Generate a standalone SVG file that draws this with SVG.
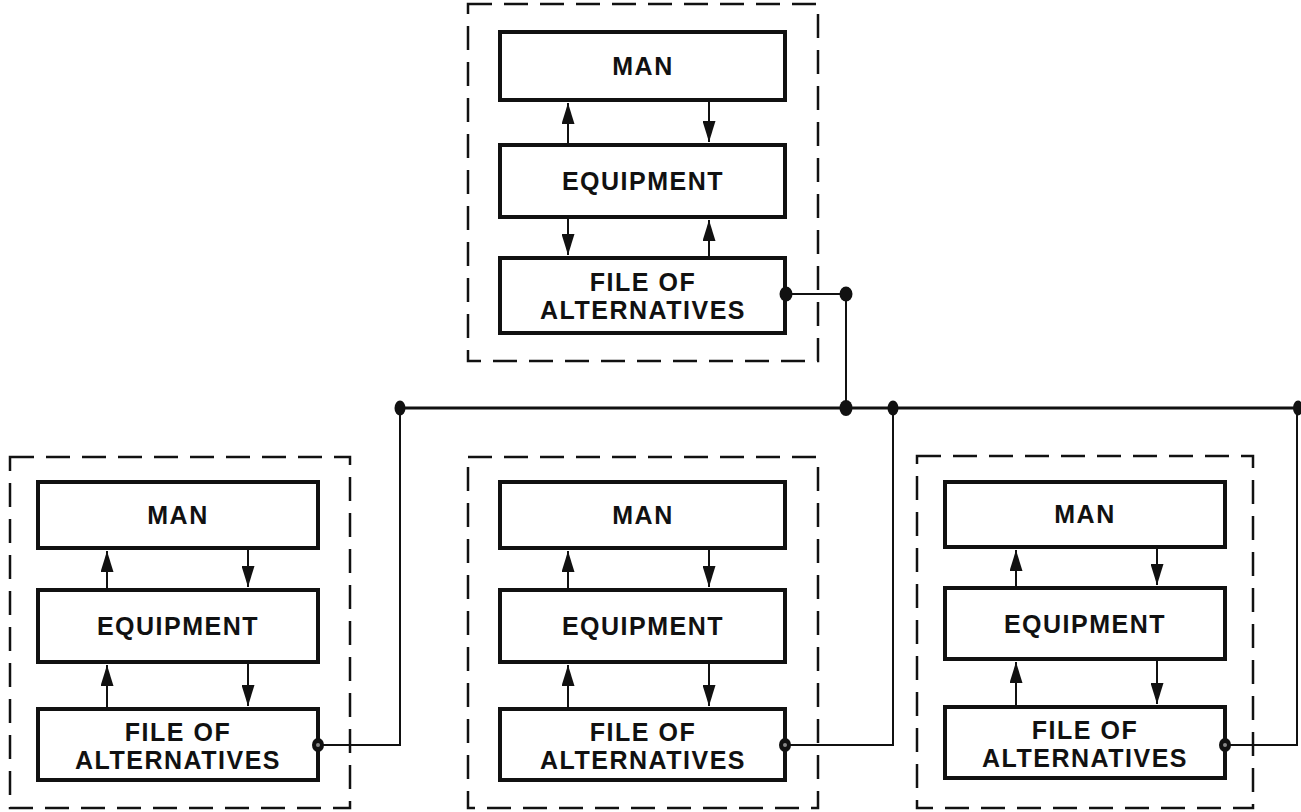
<svg xmlns="http://www.w3.org/2000/svg" width="1301" height="812" viewBox="0 0 1301 812">
<style>
.frame{fill:none;stroke:#111;stroke-width:2.5;stroke-dasharray:24 12}
.box{fill:#fff;stroke:#111;stroke-width:4}
.lbl{font-family:"Liberation Sans",Arial,sans-serif;font-weight:bold;font-size:25px;letter-spacing:1.5px;fill:#111;text-anchor:middle}
.arr{stroke:#111;stroke-width:2;fill:none;marker-end:url(#ah)}
.wire{stroke:#111;stroke-width:2;fill:none}
.bus{stroke:#111;stroke-width:2.8;fill:none}
.dot{fill:#111}
.hub{fill:#888}
</style>
<defs>
<marker id="ah" viewBox="0 0 21 13" refX="21" refY="6.5" markerWidth="21" markerHeight="13" markerUnits="userSpaceOnUse" orient="auto">
<path d="M0,0 L21,6.5 L0,13 z" fill="#111"/>
</marker>
</defs>

<g id="module-top">
<rect class="frame" x="468" y="4" width="350" height="357"/>
<g id="top-man"><rect class="box" x="500" y="32" width="285" height="68"/><text class="lbl" x="643" y="75">MAN</text></g>
<g id="top-equipment"><rect class="box" x="500" y="145" width="285" height="72"/><text class="lbl" x="643" y="190">EQUIPMENT</text></g>
<g id="top-file"><rect class="box" x="500" y="258" width="285" height="75"/><text class="lbl" x="643" y="291">FILE OF</text><text class="lbl" x="643" y="319">ALTERNATIVES</text></g>
</g>

<g id="module-bottom-left">
<rect class="frame" x="10" y="457" width="340" height="351"/>
<g id="bl-man"><rect class="box" x="38" y="482" width="280" height="66"/><text class="lbl" x="178" y="524">MAN</text></g>
<g id="bl-equipment"><rect class="box" x="38" y="590" width="280" height="72"/><text class="lbl" x="178" y="635">EQUIPMENT</text></g>
<g id="bl-file"><rect class="box" x="38" y="709" width="280" height="71"/><text class="lbl" x="178" y="741">FILE OF</text><text class="lbl" x="178" y="769">ALTERNATIVES</text></g>
</g>

<g id="module-bottom-middle">
<rect class="frame" x="468" y="457" width="350" height="351"/>
<g id="bm-man"><rect class="box" x="500" y="482" width="285" height="66"/><text class="lbl" x="643" y="524">MAN</text></g>
<g id="bm-equipment"><rect class="box" x="500" y="590" width="285" height="72"/><text class="lbl" x="643" y="635">EQUIPMENT</text></g>
<g id="bm-file"><rect class="box" x="500" y="709" width="285" height="71"/><text class="lbl" x="643" y="741">FILE OF</text><text class="lbl" x="643" y="769">ALTERNATIVES</text></g>
</g>

<g id="module-bottom-right">
<rect class="frame" x="917" y="456" width="336" height="352"/>
<g id="br-man"><rect class="box" x="945" y="482" width="280" height="65"/><text class="lbl" x="1085" y="523">MAN</text></g>
<g id="br-equipment"><rect class="box" x="945" y="588" width="280" height="71"/><text class="lbl" x="1085" y="633">EQUIPMENT</text></g>
<g id="br-file"><rect class="box" x="945" y="707" width="280" height="71"/><text class="lbl" x="1085" y="739">FILE OF</text><text class="lbl" x="1085" y="767">ALTERNATIVES</text></g>
</g>

<g id="connectors">
<line class="arr" x1="568" y1="143" x2="568" y2="103"/>
<line class="arr" x1="709" y1="102" x2="709" y2="142"/>
<line class="arr" x1="568" y1="219" x2="568" y2="255"/>
<line class="arr" x1="709" y1="256" x2="709" y2="220"/>
<line class="arr" x1="107" y1="588" x2="107" y2="551"/>
<line class="arr" x1="248" y1="550" x2="248" y2="587"/>
<line class="arr" x1="107" y1="707" x2="107" y2="665"/>
<line class="arr" x1="248" y1="664" x2="248" y2="706"/>
<line class="arr" x1="568" y1="588" x2="568" y2="551"/>
<line class="arr" x1="709" y1="550" x2="709" y2="587"/>
<line class="arr" x1="568" y1="707" x2="568" y2="665"/>
<line class="arr" x1="709" y1="664" x2="709" y2="706"/>
<line class="arr" x1="1016" y1="586" x2="1016" y2="550"/>
<line class="arr" x1="1157" y1="549" x2="1157" y2="585"/>
<line class="arr" x1="1016" y1="705" x2="1016" y2="662"/>
<line class="arr" x1="1157" y1="661" x2="1157" y2="704"/>
<polyline class="wire" points="785,294 846,294 846,408"/>
<line class="bus" x1="400" y1="408" x2="1298" y2="408"/>
<polyline class="wire" points="318,745 400,745 400,408"/>
<polyline class="wire" points="785,745 893,745 893,408"/>
<polyline class="wire" points="1225,745 1297,745 1297,408"/>
<ellipse class="dot" cx="786" cy="294" rx="6.5" ry="7.5"/>
<ellipse class="dot" cx="846" cy="294" rx="6.5" ry="7.5"/>
<ellipse class="dot" cx="400" cy="408" rx="5.5" ry="7.5"/>
<ellipse class="dot" cx="846" cy="408" rx="6.5" ry="8"/>
<ellipse class="dot" cx="893" cy="408" rx="5.5" ry="7.5"/>
<ellipse class="dot" cx="1298" cy="408" rx="5" ry="7.5"/>
<ellipse class="dot" cx="318" cy="745" rx="6" ry="7"/><circle class="hub" cx="318" cy="745" r="2"/>
<ellipse class="dot" cx="785" cy="745" rx="6" ry="7"/><circle class="hub" cx="785" cy="745" r="2"/>
<ellipse class="dot" cx="1225" cy="745" rx="6" ry="7"/><circle class="hub" cx="1225" cy="745" r="2"/>
</g>
</svg>
